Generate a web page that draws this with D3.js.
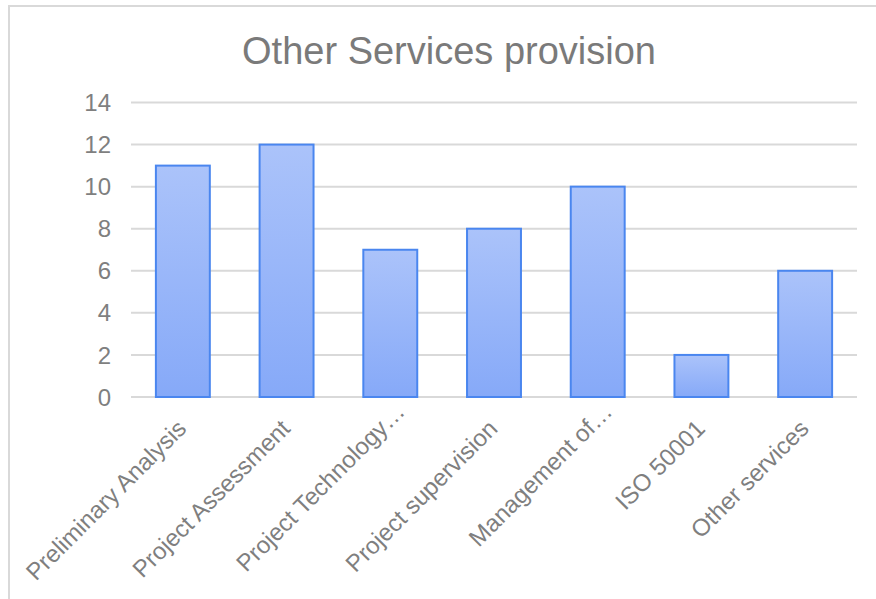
<!DOCTYPE html>
<html>
<head>
<meta charset="utf-8">
<script src="https://cdn.jsdelivr.net/npm/d3@7"></script>
<style>
  html, body { margin: 0; padding: 0; background: #fff; }
  svg { display: block; }
</style>
</head>
<body>
<svg id="chart" width="876" height="599"></svg>
<script>
const categories = ["Preliminary Analysis", "Project Assessment", "Project Technology…", "Project supervision", "Management of…", "ISO 50001", "Other services"];
const values = [11, 12, 7, 8, 10, 2, 6];
const yTicks = [0, 2, 4, 6, 8, 10, 12, 14];
const title = "Other Services provision";

const svg = d3.select("#chart");
const W = 876, H = 599;
const font = "'Liberation Sans', Arial, sans-serif";

// chart area border (top and left visible)
svg.append("line").attr("x1", 8).attr("x2", W).attr("y1", 6).attr("y2", 6)
  .attr("stroke", "#d9d9d9").attr("stroke-width", 2);
svg.append("line").attr("x1", 9).attr("x2", 9).attr("y1", 6).attr("y2", H)
  .attr("stroke", "#d9d9d9").attr("stroke-width", 2);

const x = d3.scaleBand().domain(categories).range([131, 857]).paddingInner(0.48).paddingOuter(0.24);
const y = d3.scaleLinear().domain([0, 14]).range([397, 102.5]);

const defs = svg.append("defs");
const grad = defs.append("linearGradient").attr("id", "barGrad")
  .attr("x1", 0).attr("y1", 0).attr("x2", 0).attr("y2", 1);
grad.append("stop").attr("offset", "0%").attr("stop-color", "#abc3fa");
grad.append("stop").attr("offset", "100%").attr("stop-color", "#86a9f8");

// gridlines
svg.append("g").selectAll("line").data(yTicks).join("line")
  .attr("x1", 131).attr("x2", 857)
  .attr("y1", d => y(d)).attr("y2", d => y(d))
  .attr("stroke", "#d9d9d9").attr("stroke-width", 2);

// y labels
svg.append("g").selectAll("text").data(yTicks).join("text")
  .attr("x", 111).attr("y", d => y(d)).attr("dy", "0.36em")
  .attr("text-anchor", "end")
  .attr("font-family", font).attr("font-size", 24).attr("fill", "#7f7f7f")
  .text(d => d);

// bars
svg.append("g").selectAll("rect").data(values).join("rect")
  .attr("x", (d, i) => x(categories[i]))
  .attr("width", x.bandwidth())
  .attr("y", d => y(d))
  .attr("height", d => y(0) - y(d))
  .attr("fill", "url(#barGrad)")
  .attr("stroke", "#4a86ef").attr("stroke-width", 2);

// x labels (truncated labels sit further along their diagonal)
svg.append("g").selectAll("text").data(categories).join("text")
  .attr("transform", d => {
    const trunc = d.endsWith("…");
    const cx = x(d) + x.bandwidth() / 2 + (trunc ? 16 : 5);
    const cy = y(0) + (trunc ? 16 : 33);
    return `translate(${cx},${cy}) rotate(-45)`;
  })
  .attr("text-anchor", "end")
  .attr("font-family", font).attr("font-size", 24).attr("fill", "#7f7f7f")
  .text(d => d);

// title
svg.append("text").attr("x", 449).attr("y", 64).attr("text-anchor", "middle")
  .attr("font-family", font).attr("font-size", 38).attr("fill", "#7a7a7a")
  .text(title);
</script>
</body>
</html>
